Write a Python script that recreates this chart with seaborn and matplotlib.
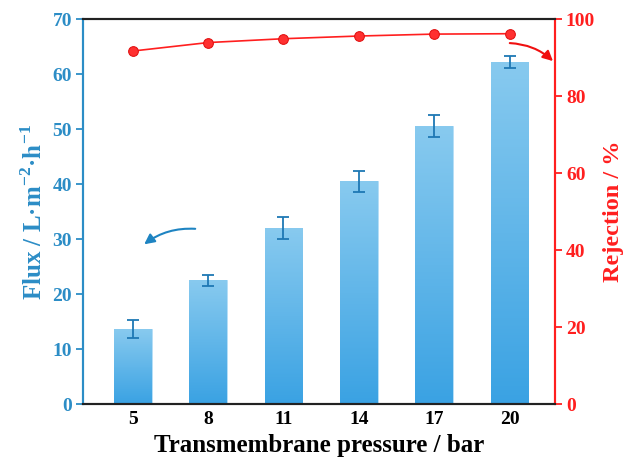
import numpy as np
import pandas as pd
import matplotlib
matplotlib.use("Agg")
import matplotlib.pyplot as plt
import seaborn as sns
from matplotlib.patches import FancyArrowPatch
from matplotlib.colors import LinearSegmentedColormap

pressure = ["5", "8", "11", "14", "17", "20"]
flux = [13.6, 22.5, 32.0, 40.5, 50.5, 62.2]
flux_err = [1.6, 1.0, 2.0, 1.9, 2.0, 1.1]
rejection = [91.7, 93.9, 94.9, 95.6, 96.1, 96.2]

blue = "#2C8DC6"
red = "#FF1F1F"

sns.set_theme(style="white")
plt.rcParams["font.family"] = ["Liberation Serif", "DejaVu Serif"]
plt.rcParams["font.weight"] = "bold"
plt.rcParams["mathtext.fontset"] = "custom"
plt.rcParams["mathtext.rm"] = "Liberation Serif:bold"
plt.rcParams["mathtext.bf"] = "Liberation Serif:bold"

df = pd.DataFrame({"pressure": pressure, "flux": flux, "err": flux_err, "rej": rejection})

fig = plt.figure(figsize=(6.29, 4.61), dpi=100)
ax = fig.add_axes([0.132, 0.1236, 0.75, 0.835])

sns.barplot(data=df, x="pressure", y="flux", color="#5DB5EA", width=0.5, ax=ax,
            errorbar=None, saturation=1)

# gradient fill for each bar
cmap = LinearSegmentedColormap.from_list("grad", ["#3AA2E3", "#88CAEF"])
grad = np.linspace(0, 1, 256).reshape(-1, 1)
for p in ax.patches:
    x0, y0 = p.get_x(), p.get_y()
    w, h = p.get_width(), p.get_height()
    p.set_facecolor("none")
    p.set_edgecolor("#A8D8F5")
    p.set_linewidth(0.6)
    im = ax.imshow(grad, cmap=cmap, aspect="auto", origin="lower",
                   extent=[x0, x0 + w, y0, y0 + h], zorder=1.5)
    im.set_clip_path(p)

ax.errorbar(np.arange(len(pressure)), flux, yerr=flux_err, fmt="none",
            ecolor="#1E78B4", elinewidth=1.3, capsize=4, capthick=1.3, zorder=3)

ax.set_xlim(-0.66, 5.6)
ax.set_ylim(0, 70)
ax.set_yticks(range(0, 71, 10))
ax.set_xlabel("Transmembrane pressure / bar", fontsize=18, fontweight="bold", color="black", labelpad=4)
ax.set_ylabel(r"Flux / L·m$^{-2}$·h$^{-1}$", fontsize=18, fontweight="bold", color=blue, labelpad=4)
ax.tick_params(axis="y", colors=blue, labelsize=14, length=5, width=1.3, direction="out", left=True, pad=3)
ax.tick_params(axis="x", labelsize=14, length=0, colors="black", pad=5)
for lab in ax.get_yticklabels() + ax.get_xticklabels():
    lab.set_fontweight("bold")

ax2 = ax.twinx()
sns.lineplot(x=np.arange(len(pressure)), y=rejection, ax=ax2, color=red, linewidth=1.2,
             marker="o", markersize=7, markerfacecolor="#FF3030", markeredgecolor="#E01010")
ax2.set_ylim(0, 100)
ax2.set_yticks(range(0, 101, 20))
ax2.set_ylabel("Rejection / %", fontsize=17.5, fontweight="bold", color=red, labelpad=6)
ax2.tick_params(axis="y", colors=red, labelsize=14, length=5, width=1.3, direction="out", right=True, pad=3)
for lab in ax2.get_yticklabels():
    lab.set_fontweight("bold")

for a in (ax, ax2):
    a.spines["top"].set_color("#222222")
    a.spines["bottom"].set_color("#222222")
    a.spines["left"].set_color(blue)
    a.spines["right"].set_color(red)
    for s in a.spines.values():
        s.set_linewidth(1.5)
        s.set_visible(True)

# curved arrows
arr1 = FancyArrowPatch((198 / 629, 1 - 229 / 461), (142 / 629, 1 - 246 / 461),
                       transform=fig.transFigure, connectionstyle="arc3,rad=0.2",
                       arrowstyle="-|>,head_length=6,head_width=3", color="#1E84C2", lw=1.5)
arr2 = FancyArrowPatch((507 / 629, 1 - 43 / 461), (555 / 629, 1 - 63 / 461),
                       transform=fig.transFigure, connectionstyle="arc3,rad=-0.2",
                       arrowstyle="-|>,head_length=6,head_width=3", color="#F01010", lw=1.5)
fig.patches.extend([arr1, arr2])

fig.savefig("out.png", dpi=100)
